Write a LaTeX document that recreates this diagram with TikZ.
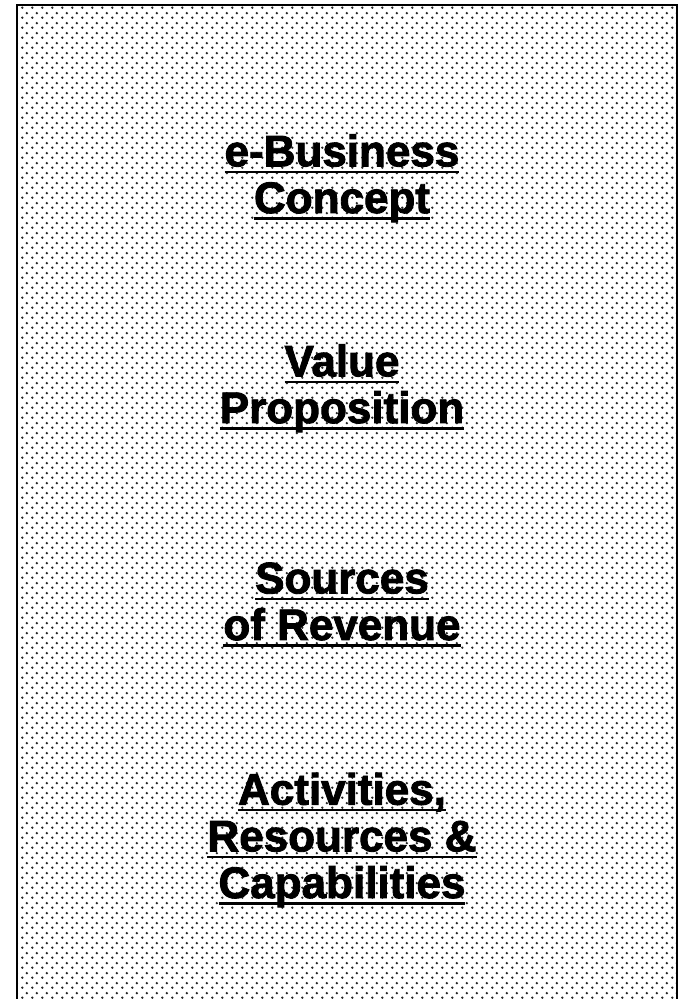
\documentclass[tikz,border=0pt]{standalone}
\usepackage{fontspec}
\newfontfamily\headfont[FakeBold=2]{Liberation Sans}
\usetikzlibrary{patterns.meta}
\newsavebox{\ulbox}
\newcommand{\ulword}[1]{\sbox{\ulbox}{#1}\rlap{\rule[-5pt]{\wd\ulbox}{1.8pt}}\usebox{\ulbox}}
\tikzdeclarepattern{
  name=halftone,
  type=uncolored,
  bottom left={(0pt,0pt)},
  top right={(7.5pt,7.5pt)},
  tile size={(7.5pt,7.5pt)},
  code={
    \fill (1.875pt,1.875pt) circle (1.05pt);
    \fill (5.625pt,5.625pt) circle (1.05pt);
  }
}
\tikzset{
  heading/.style={font=\headfont\bfseries\fontsize{33}{35}\selectfont, align=center, inner sep=0pt, anchor=base}
}
\begin{document}
\begin{tikzpicture}[x=0.75pt,y=0.75pt]
\pgfmathsetmacro{\boxl}{17}
\pgfmathsetmacro{\boxr}{677}
\pgfmathsetmacro{\boxt}{994}
\useasboundingbox (0,0) rectangle (678,999);
\begin{scope}
\clip (0,0) rectangle (678,999);
\fill[white] (\boxl,-10) rectangle (\boxr,\boxt);
\fill[pattern=halftone, pattern color=black!85] (\boxl,-10) rectangle (\boxr,\boxt);
\draw[line width=2pt] (\boxl,-10) -- (\boxl,\boxt) -- (\boxr,\boxt) -- (\boxr,-10);
\end{scope}
\node[heading] (concept) at (342,786) {\ulword{e-Business}\\\ulword{Concept}};
\node[heading] (value) at (342,576) {\ulword{Value}\\\ulword{Proposition}};
\node[heading] (revenue) at (342,359) {\ulword{Sources}\\\ulword{of Revenue}};
\node[heading] (activities) at (342,101) {\ulword{Activities,}\\\ulword{Resources \&}\\\ulword{Capabilities}};
\end{tikzpicture}
\end{document}
